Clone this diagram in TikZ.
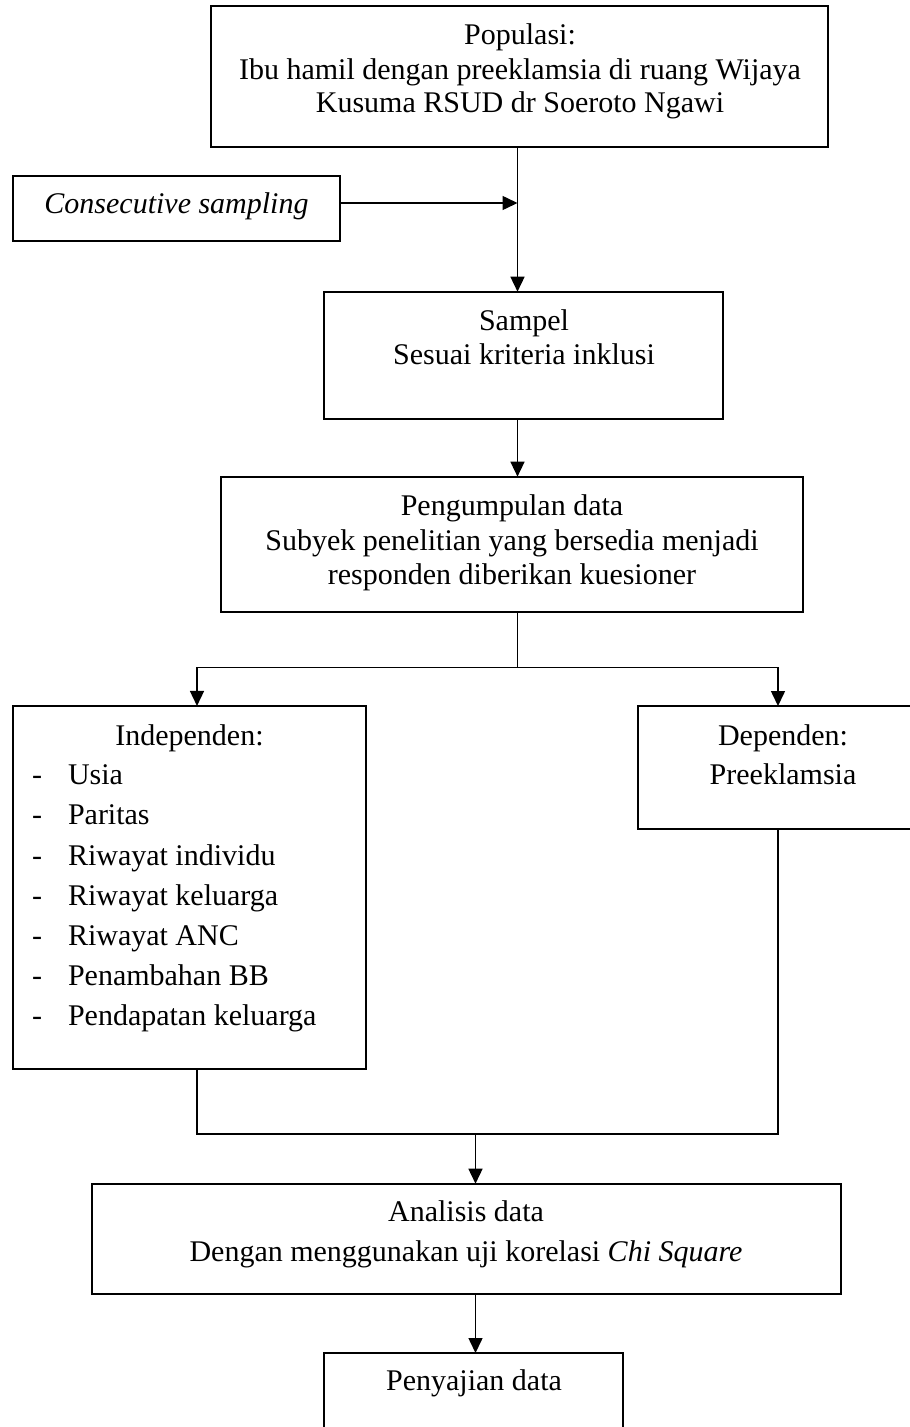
\documentclass[tikz,border=0pt]{standalone}
\usepackage{fontspec}
\setmainfont{Liberation Serif}
\usetikzlibrary{arrows.meta}
\begin{document}
\begin{tikzpicture}[x=1pt,y=-1pt,
  box/.style={draw=black,line width=2pt,rectangle,inner sep=0pt,outer sep=0pt},
  txt/.style={inner sep=0pt,outer sep=0pt,anchor=base,font=\fontsize{30}{34}\selectfont},
  txtl/.style={txt,anchor=base west},
  link/.style={draw=black,line width=1.5pt},
  arr/.style={link,-{Triangle[length=15pt,width=14pt]}}]
\useasboundingbox (0,0) rectangle (910,1427);
\clip (0,0) rectangle (910,1427);

% boxes
\node[box,minimum width=617pt,minimum height=141pt] (pop) at (519,76) {};
\node[box,minimum width=327pt,minimum height=65pt] (cons) at (176.5,208.5) {};
\node[box,minimum width=399pt,minimum height=127.6pt] (samp) at (523.5,355.5) {};
\node[box,minimum width=582.5pt,minimum height=135.3pt] (peng) at (511.75,544.3) {};
\node[box,minimum width=353pt,minimum height=362.7pt] (ind) at (189.5,887.3) {};
\node[box,minimum width=290pt,minimum height=123pt] (dep) at (783,767.5) {};
\node[box,minimum width=749pt,minimum height=110.6pt] (ana) at (466.2,1239) {};
\node[box,minimum width=299pt,minimum height=120pt] (pen) at (473.5,1413) {};

% texts
\node[txt] (pop1) at (520,44) {Populasi:};
\node[txt] (pop2) at (520,79) {Ibu hamil dengan preeklamsia di ruang Wijaya};
\node[txt] (pop3) at (520,112) {Kusuma RSUD dr Soeroto Ngawi};
\node[txt] (cons1) at (176.5,213) {\itshape Consecutive sampling};
\node[txt] (samp1) at (524,330) {Sampel};
\node[txt] (samp2) at (524,364) {Sesuai kriteria inklusi};
\node[txt] (peng1) at (512,515.7) {Pengumpulan data};
\node[txt] (peng2) at (512,550.7) {Subyek penelitian yang bersedia menjadi};
\node[txt] (peng3) at (512,584) {responden diberikan kuesioner};
\node[txt] (ind0) at (189.5,745) {Independen:};
\foreach \y/\t [count=\i] in {784/Usia,824/Paritas,865/Riwayat individu,905/Riwayat keluarga,945/Riwayat ANC,985/Penambahan BB,1025/Pendapatan keluarga}{
  \node[txtl] (indd\i) at (32,\y) {-};
  \node[txtl] (indt\i) at (68,\y) {\t};
}
\node[txt] (dep1) at (783,745) {Dependen:};
\node[txt] (dep2) at (783,784) {Preeklamsia};
\node[txt] (ana1) at (466,1221.7) {Analisis data};
\node[txt] (ana2) at (466,1261.7) {Dengan menggunakan uji korelasi \textit{Chi Square}};
\node[txt] (pen1) at (474,1390) {Penyajian data};

% connector guides
\coordinate (vx) at (517.5,0);
\coordinate (lx) at (197,0);
\coordinate (rx) at (778,0);
\coordinate (mx) at (475.5,0);
\coordinate (splity) at (0,667.3);
\coordinate (mergey) at (0,1134);

% connectors
\draw[arr] (pop.south -| vx) -- (samp.north -| vx);
\draw[arr] ([yshift=5.5pt]cons.east) -- ([yshift=5.5pt]cons.east -| vx);
\draw[arr] (samp.south -| vx) -- (peng.north -| vx);
\draw[link] (peng.south -| vx) -- (vx |- splity);
\draw[arr] (vx |- splity) -| (ind.north -| lx);
\draw[arr] (vx |- splity) -| (dep.north -| rx);
\draw[link] (ind.south -| lx) |- (rx |- mergey) -- (dep.south -| rx);
\draw[arr] (mx |- mergey) -- (ana.north -| mx);
\draw[arr] (ana.south -| mx) -- (pen.north -| mx);
\end{tikzpicture}
\end{document}
